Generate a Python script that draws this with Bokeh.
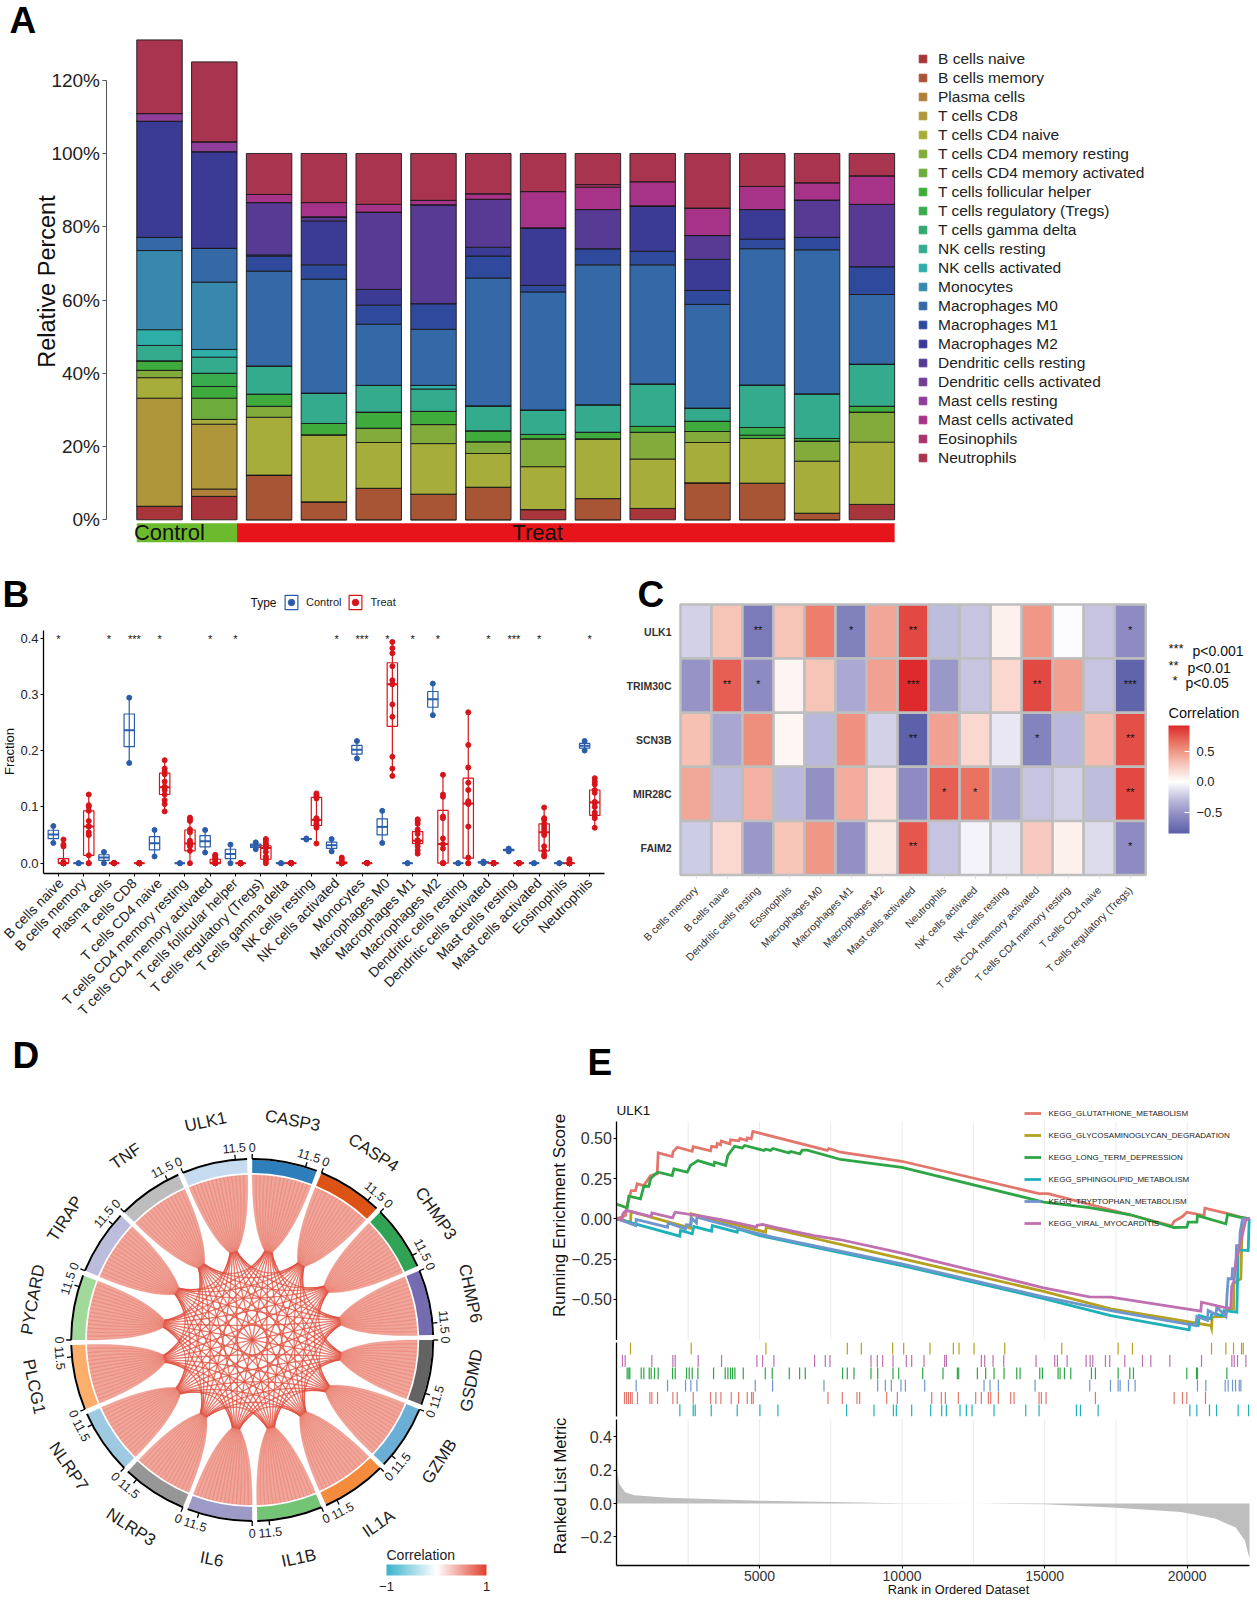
import math
import numpy as np
from bokeh.core.properties import value
from bokeh.embed import file_html
from bokeh.resources import INLINE
from bokeh.plotting import figure
from bokeh.layouts import column, row
from bokeh.models import (Range1d, Label, Legend, LegendItem, FixedTicker, ColorBar,
                          LinearColorMapper, ColumnDataSource)

FONT = "Liberation Sans"

# ---------------- Panel A ----------------
cell_types = ["B cells naive","B cells memory","Plasma cells","T cells CD8","T cells CD4 naive",
 "T cells CD4 memory resting","T cells CD4 memory activated","T cells follicular helper",
 "T cells regulatory (Tregs)","T cells gamma delta","NK cells resting","NK cells activated",
 "Monocytes","Macrophages M0","Macrophages M1","Macrophages M2","Dendritic cells resting",
 "Dendritic cells activated","Mast cells resting","Mast cells activated","Eosinophils","Neutrophils"]
cell_colors = ["#A8343C","#A85536","#B0803A","#AF963A","#A6AD3A","#82AB3C","#6CAB3C","#3FAB3C","#38AC4E",
 "#34A873","#33AB8C","#2FAEA8","#3788AC","#3568A6","#2F4A9C","#3B3A94","#563A94","#6F3C96","#8F3F9A",
 "#A63388","#A8326A","#A8344F"]
a_b_naive = [3.7,6.4,0,0,0,0,0,2.8,0,3.1,0,0,0,4.2]
a_b_memory = [0,0,12.2,4.9,8.6,7,8.9,0,5.8,0,10.1,10,1.8,0]
a_plasma = [0,2.0,0,0,0,0,0,0,0,0,0,0,0,0]
a_cd8 = [29.5,17.7,0,0,0,0,0,0,0,0,0,0,0,0]
a_cd4_naive = [5.6,1.3,15.8,18.3,12.5,13.8,9.2,11.7,16.3,13.5,11,12.2,14.2,17]
a_cd4_rest = [2.0,0,3.0,0,3.9,5.2,3.2,7.6,0,7.3,3,0,5.5,8.2]
a_cd4_act = [0,5.8,0,0,0,0,0,0,0,0,0,0,0,0]
a_tfh = [2.6,3.2,3.3,3.1,4.4,3.6,3,1.2,1.8,1.6,2.8,0.9,0.7,1.6]
a_treg = [0,3.6,0,0,0,0,0,0,0,0,0,2.1,0,0]
a_gamma = [0]*14
a_nk_rest = [4.2,4.4,7.7,8.3,7.3,6.1,6.8,6.7,7.5,11.6,3.6,11.6,12.2,11.5]
a_nk_act = [4.3,2.1,0,0,0,1.0,0,0,0,0,0,0,0,0]
a_mono = [21.6,18.4,0,0,0,0,0,0,0,0,0,0,0,0]
a_m0 = [3.6,9.2,25.9,31.1,16.7,15.3,34.9,32.2,38.2,32.5,28.3,37.2,39.3,19]
a_m1 = [0,0,4.1,3.9,5.2,7,6,1.8,4.4,3.7,3.8,2.6,3.4,7.6]
a_m2 = [31.7,26.4,0.3,12,4.3,0,2.4,15.7,0,12.4,8.5,8.1,0,0]
a_dc_rest = [0,0,14.3,1.1,21.1,27,13.1,0,10.7,0,6.5,0,10.2,17]
a_dc_act = [0]*14
a_mast_rest = [2.1,2.7,0,0,0,0,0,0,0,0,0,0,0,0]
a_mast_act = [0,0,2.2,3.9,2.1,1.2,1.5,9.9,6.1,6.6,7.5,6.3,4.7,7.8]
a_eos = [0,0,0,0,0,0,0,0,0.7,0,0,0,0,0]
a_neut = [20.1,21.8,11.2,13.4,13.9,12.8,11,10.4,8.5,7.7,14.9,9,8,6.1]
a_groups = ["Control","Treat"]
a_group_sizes = [2,12]
a_group_colors = ["#6CBB2E","#E8141C"]
a_ticks = [0,20,40,60,80,100,120]

# ---------------- Panel B ----------------
b_cats = ["B cells naive","B cells memory","Plasma cells","T cells CD8","T cells CD4 naive",
 "T cells CD4 memory resting","T cells CD4 memory activated","T cells follicular helper",
 "T cells regulatory (Tregs)","T cells gamma delta","NK cells resting","NK cells activated","Monocytes",
 "Macrophages M0","Macrophages M1","Macrophages M2","Dendritic cells resting","Dendritic cells activated",
 "Mast cells resting","Mast cells activated","Eosinophils","Neutrophils"]
ctrl_lo = [.036,0,0,.178,.012,0,.019,0,.025,0,.042,.021,.186,.036,0,.263,0,0,.021,0,0,.200]
ctrl_hi = [.066,0,.020,.294,.059,0,.059,.033,.037,0,.044,.043,.217,.093,0,.319,0,.003,.026,0,0,.217]
treat_q1 = [0,.014,0,0,.122,.022,0,0,.007,0,.067,0,0,.243,.035,0,.009,0,0,.022,0,.085]
treat_med = [0,.065,0,0,.135,.035,0,0,.027,0,.077,0,0,.318,.040,.034,.106,0,0,.055,0,.108]
treat_q3 = [.008,.093,0,0,.160,.059,.007,0,.031,0,.117,.002,0,.356,.056,.094,.151,0,0,.070,0,.130]
treat_pts = [
 [0,0,0,0,0,0,0,0,.002,.030,.033,.042],
 [0,0,.014,.05,.055,.065,.066,.075,.093,.100,.103,.122],
 [0]*12, [0]*12,
 [.092,.105,.112,.122,.13,.135,.136,.145,.158,.163,.168,.183],
 [0,.022,.03,.033,.035,.036,.04,.055,.06,.075,.078,.081],
 [0,0,0,0,0,0,.002,.006,.008,.01,.013,.015],
 [0]*12,
 [0,.005,.008,.012,.02,.027,.028,.03,.032,.035,.04,.043],
 [0]*12,
 [.035,.063,.067,.07,.075,.077,.078,.08,.115,.118,.121,.124],
 [0,0,0,0,0,0,0,0,0,.002,.006,.01],
 [0]*12,
 [.155,.168,.189,.26,.282,.318,.318,.325,.35,.373,.382,.393],
 [.017,.023,.03,.035,.038,.04,.041,.052,.06,.07,.075,.078],
 [0,0,0,0,.026,.034,.044,.08,.083,.118,.122,.157],
 [0,0,.01,.065,.105,.108,.11,.13,.143,.17,.21,.268],
 [0]*12, [0]*12,
 [.012,.015,.022,.03,.05,.055,.06,.065,.07,.077,.08,.099],
 [0,0,0,0,0,0,0,0,0,0,.004,.007],
 [.063,.08,.085,.09,.1,.107,.109,.125,.13,.14,.145,.151]]
b_sig_index = [0,2,3,4,6,7,11,12,13,14,15,17,18,19,21]
b_sig_text = ["*","*","***","*","*","*","*","***","*","*","*","*","***","*","*"]
b_ticks = [0.0,0.1,0.2,0.3,0.4]

# ---------------- Panel C ----------------
c_cols = ["B cells memory","B cells naive","Dendritic cells resting","Eosinophils","Macrophages M0",
 "Macrophages M1","Macrophages M2","Mast cells activated","Neutrophils","NK cells activated","NK cells resting",
 "T cells CD4 memory activated","T cells CD4 memory resting","T cells CD4 naive","T cells regulatory (Tregs)"]
c_rows = ["ULK1","TRIM30C","SCN3B","MIR28C","FAIM2"]
c_ulk1 = [-.2,.3,-.65,.3,.6,-.62,.43,.8,-.28,-.25,.08,.5,-.01,-.25,-.55]
c_trim30c = [-.5,.72,-.55,.05,.3,-.38,.45,.92,-.48,-.25,.2,.8,.45,-.25,-.8]
c_scn3b = [.32,-.4,.53,.04,-.3,.52,-.2,-.82,.45,.2,-.1,-.6,-.3,.33,.78]
c_mir28c = [.42,-.28,.38,-.3,-.52,.4,.15,-.55,.72,.65,-.4,-.25,-.2,-.28,.8]
c_faim2 = [-.22,.2,-.48,.3,.5,-.52,.12,.75,-.25,-.05,-.1,.27,.07,-.15,-.55]
c_star_row = [0,0,0,0,1,1,1,1,1,2,2,2,3,3,3,4,4]
c_star_col = [2,5,7,14,1,2,7,11,14,7,11,14,8,9,14,7,14]
c_star_txt = ["**","*","**","*","**","*","***","**","***","**","*","**","*","*","**","**","*"]

# ---------------- Panel D ----------------
d_genes = ["CASP3","CASP4","CHMP3","CHMP6","GSDMD","GZMB","IL1A","IL1B","IL6","NLRP3","NLRP7","PLCG1","PYCARD","TIRAP","TNF","ULK1"]
d_colors = ["#2E7EBB","#DD5316","#31A354","#756BB1","#636363","#6BAED6","#F58B3C","#74C476","#9E9AC8","#969696",
            "#9ECAE1","#FDAE6B","#A1D99B","#BCBDDC","#BDBDBD","#C6DBEF"]
d_tick_labels = ["0","11.5"]

# ---------------- Panel E ----------------
e_names = ["KEGG_GLUTATHIONE_METABOLISM","KEGG_GLYCOSAMINOGLYCAN_DEGRADATION","KEGG_LONG_TERM_DEPRESSION",
           "KEGG_SPHINGOLIPID_METABOLISM","KEGG_TRYPTOPHAN_METABOLISM","KEGG_VIRAL_MYOCARDITIS"]
e_colors = ["#E2766C","#B5A01F","#2EA646","#1FB0B8","#6E96CC","#BE70B0"]
gsh_x = [0,302,360,500,653,711,945,1179,1413,1448,1939,1974,2115,2641,2676,3285,3320,3495,3519,3635,3659,3963,3986,4279,4314,4548,4571,4711,4770,7378,7437,7846,9993,14806,15127,19457,19542,19835,19987,20595,20619,21355,21882,22185]
gsh_y = [0,.02,.082,.175,.175,.217,.206,.268,.279,.409,.386,.417,.444,.419,.448,.422,.45,.444,.467,.459,.482,.465,.49,.484,.498,.486,.502,.496,.542,.424,.436,.413,.357,.156,.156,-.043,-.015,.014,.041,.02,.066,.035,.01,0]
gag_x = [0,477,500,2583,2606,5214,5237,9993,14966,17320,20829,20853,20875,21355,21378,21624,21640,21882,21905,21940,22185]
gag_y = [0,-.021,.045,-.058,.031,-.083,-.052,-.247,-.45,-.559,-.662,-.676,-.609,-.606,-.559,-.56,-.40,-.372,-.197,0,0]
ltd_x = [0,360,419,828,945,1121,1179,1354,1448,1939,1998,2466,2582,2840,3402,3425,3811,3893,4127,4396,4478,5156,5214,5390,5472,6033,6092,6419,6501,6676,7846,9993,14966,16570,18014,19538,19987,20034,20338,20361,21355,21414,21823,22185]
ltd_y = [.09,.068,.14,.124,.202,.202,.248,.279,.289,.268,.31,.289,.331,.361,.331,.351,.331,.393,.45,.44,.455,.424,.432,.424,.436,.409,.418,.403,.426,.426,.368,.319,.104,.07,.025,-.054,-.052,-.021,-.021,.02,-.031,.027,.01,0]
sph_x = [0,2208,2231,2641,2700,3320,3343,4220,4243,5015,9993,14966,17320,20069,20092,20385,20420,20829,20864,21238,21290,21741,21788,22139,22174,22185]
sph_y = [0,-.108,-.072,-.093,-.048,-.077,-.042,-.083,-.062,-.104,-.29,-.495,-.60,-.689,-.652,-.662,-.60,-.621,-.585,-.60,-.57,-.579,-.193,-.197,-.006,0]
trp_x = [0,660,676,1776,1800,2407,2430,2594,2620,2790,2805,4852,5460,9993,14966,17320,20303,20338,20711,20735,21004,21040,21355,21390,21437,21570,21590,21706,21730,21840,21858,21940,22185]
trp_y = [0,-.042,-.004,-.052,-.025,-.062,-.037,-.04,.004,-.025,.01,-.087,-.114,-.28,-.484,-.569,-.662,-.606,-.63,-.569,-.594,-.548,-.606,-.497,-.372,-.372,-.31,-.31,-.166,-.166,-.083,0,0]
vmc_x = [0,185,208,325,1202,1226,1951,2045,2840,3659,4899,4920,5109,5507,6910,7846,9993,14966,16570,17320,20478,20502,21355,21531,21560,21648,21706,21800,22057,22185]
vmc_y = [0,-.005,.031,.052,.014,.037,.006,.041,.02,-.005,-.052,-.04,-.035,-.052,-.104,-.13,-.213,-.428,-.484,-.486,-.573,-.517,-.552,-.552,-.42,-.383,-.259,-.2,-.006,0]
rug_gag = [477,2606,5226,8080,8571,9671,10057,10981,11799,11998,12525,13601,15601,17578,18081,20853,21356,21625,21906,21964]
rug_vmc = [196,290,1226,1963,2045,2852,3670,4910,5109,5507,6934,7308,7472,8911,9133,9320,9683,10150,10338,10771,11495,11554,12782,12899,13191,13566,14700,15355,15449,15788,16455,16595,16689,17133,17285,17812,18432,18724,19391,20502,21566,21648,21765,22058]
rug_ltd = [360,419,454,852,945,1132,1202,1319,1448,1951,2045,2442,2536,2641,2840,3390,3799,3893,3986,4056,4138,4431,5203,5448,6045,6408,6606,7916,8080,8314,8911,9145,9683,9882,10724,11437,11940,11987,12642,12934,13226,13577,14022,14139,14829,14922,15472,15542,15694,15917,16642,16782,17578,17987,18116,19987,20326,20361,21391]
rug_trp = [676,1776,2407,2594,2805,4852,5460,7262,9145,9414,9624,9963,10116,10794,12875,13086,13378,14665,16583,17309,17578,17648,17940,18174,20361,20654,21332,21437,21589,21695,21824,21882]
rug_gsh = [266,337,407,477,536,723,1156,1226,1425,1963,2115,2676,3285,3472,3647,4009,4267,4571,4723,4782,7402,7905,8419,8513,9461,9835,11039,11378,11519,11975,12583,12782,13028,13110,13378,13811,13928,14805,14887,15051,16782,19543,19835,19987,20642]
rug_sph = [2208,2676,2746,3308,4220,5015,5647,8057,9016,9695,9800,10338,11004,11390,11554,12033,12256,12454,13226,14338,14805,16116,16256,16876,20093,20338,20782,21028,21788,22151]
metric_x = [1,80,289,610,1813,5021,9993,12560,14965,17370,19780,20980,21700,22020,22185]
metric_y = [.205,.118,.068,.05,.035,.017,.002,0,-.004,-.024,-.05,-.09,-.144,-.22,-.33]
e_rank_max = 22185
e_grid = [2500,5000,7500,10000,12500,15000,17500,20000]
e_x_ticks = [5000,10000,15000,20000]
e_es_ticks = [-0.5,-0.25,0,0.25,0.5]
e_metric_ticks = [-0.2,0,0.2,0.4]

ORIGIN = {}


def make_fig(ox, oy, w, h, L, R, T, B, xr, yr, xaxis=False, yaxis=False):
    """Whole-canvas plot area; the data ranges xr, yr map onto page pixels L..R, B..T."""
    sx, sy = (R - L) / (xr[1] - xr[0]), (B - T) / (yr[1] - yr[0])
    x_range = Range1d(xr[0] - (L - ox) / sx, xr[1] + (ox + w - R) / sx)
    y_range = Range1d(yr[0] - (oy + h - B) / sy, yr[1] + (T - oy) / sy)
    kw = {}
    if not xaxis: kw["x_axis_type"] = None
    if not yaxis: kw["y_axis_type"] = None
    p = figure(width=w, height=h, x_range=x_range, y_range=y_range, output_backend="svg", toolbar_location=None,
               min_border_left=0, min_border_right=0, min_border_top=0, min_border_bottom=0,
               outline_line_color=None, **kw)
    p.grid.visible = False
    if xaxis:
        p.xaxis.fixed_location = yr[0]
        p.xaxis.bounds = tuple(xr)
    if yaxis:
        p.yaxis.fixed_location = xr[0]
        p.yaxis.bounds = tuple(yr)
    ORIGIN[id(p)] = (ox, oy + h)
    return p


def lab(p, X, Y, text, size, angle=0.0, align="left", base="middle", style="normal", color="#111111"):
    ox, ob = ORIGIN[id(p)]
    p.add_layout(Label(x=X - ox, y=ob - Y, x_units="screen", y_units="screen", text=text,
                       text_font=FONT, text_font_size=f"{size}px", text_font_style=style, text_color=color,
                       angle=angle, text_align=align, text_baseline=base))


def style_axis(ax, size, color="#222222", line="#000000", lw=1.2, out=3, standoff=3):
    ax.major_label_text_font = FONT
    ax.major_label_text_font_size = f"{size}px"
    ax.major_label_text_color = color
    ax.axis_line_color = line
    ax.axis_line_width = lw
    ax.major_tick_line_color = line
    ax.major_tick_out = out
    ax.major_tick_in = 0
    ax.minor_tick_line_color = None
    ax.major_label_standoff = standoff


# ================ Panel A ================
bar_pitch, bar0 = 54.8, 159.0
A_L, A_R, A_T, A_B = 105.5, 1257, 79.7, 519.3
pa = make_fig(0, 0, 1257, 565, A_L, A_R, A_T, A_B, ((A_L - bar0) / bar_pitch, (A_R - bar0) / bar_pitch), (0, 120), yaxis=True)
a_series = [a_b_naive,a_b_memory,a_plasma,a_cd8,a_cd4_naive,a_cd4_rest,a_cd4_act,a_tfh,a_treg,a_gamma,a_nk_rest,
            a_nk_act,a_mono,a_m0,a_m1,a_m2,a_dc_rest,a_dc_act,a_mast_rest,a_mast_act,a_eos,a_neut]
a_src = {"x": list(range(14))}
for name, vals in zip(cell_types, a_series):
    a_src[name] = vals
pa.vbar_stack(cell_types, x="x", width=0.83, color=cell_colors, line_color="#1a1a1a", line_width=0.9,
              source=ColumnDataSource(a_src))
a_items = []
for name, c in zip(cell_types, cell_colors):
    r = pa.scatter(x=[float("nan")], y=[float("nan")], marker="square", color=c)
    a_items.append(LegendItem(label=name, renderers=[r]))
leg_a = Legend(items=a_items, location=(913, 565 - 467), padding=0, margin=0, spacing=0, glyph_width=19,
               glyph_height=19, label_height=19, label_standoff=6, border_line_color=None,
               background_fill_alpha=0, label_text_font=FONT, label_text_font_size="15.5px",
               label_text_color="#222222")
pa.add_layout(leg_a)
ya = pa.yaxis[0]
style_axis(ya, 19, line="#555555", lw=1, out=4, standoff=2)
ya.ticker = FixedTicker(ticks=a_ticks)
ya.major_label_overrides = {t: f"{t}%" for t in a_ticks}
half_bar = 0.415
g_edges = [-half_bar]
pos = -1
for n in a_group_sizes:
    pos += n
    g_edges.append(pos + half_bar)
pa.quad(left=g_edges[:-1], right=g_edges[1:], bottom=-6.1, top=-0.93, color=a_group_colors, line_color=None)
pa.text(x=[0.18, 6.9], y=[-3.5, -3.5], text=a_groups, text_font=value(FONT), text_font_size="22px", text_align="center",
        text_baseline="middle", text_color="#111111")
lab(pa, 46, 281, "Relative Percent", 23.5, angle=math.pi / 2, align="center")
lab(pa, 9, 20, "A", 37, style="bold", base="alphabetic", color="#000000")

# ================ Panel B ================
b_pitch, b0 = 25.3, 57.9
b_px = 563.0
B_L, B_R, B_T, B_B = 43, 604, 630, 873
pb = make_fig(0, 565, 620, 465, B_L, B_R, B_T, B_B, ((B_L - b0) / b_pitch, (B_R - b0) / b_pitch),
              ((862.7 - B_B) / b_px, (862.7 - B_T) / b_px), xaxis=True, yaxis=True)
BLUE, RED = "#2A5CAA", "#D7141A"
xi = np.arange(len(b_cats))
d = 0.2
c_lo, c_hi = np.array(ctrl_lo), np.array(ctrl_hi)
c_q1, c_med, c_q3 = c_lo + .25 * (c_hi - c_lo), (c_lo + c_hi) / 2, c_lo + .75 * (c_hi - c_lo)
t_min = np.array([min(v) for v in treat_pts]); t_max = np.array([max(v) for v in treat_pts])
bw = 0.41
def draw_box(x, q1, med, q3, lo, hi, col):
    pb.segment(x0=x, x1=x, y0=lo, y1=hi, color=col, line_width=1.2)
    b = pb.vbar(x=x, bottom=q1, top=q3, width=bw, fill_color="#FFFFFF", fill_alpha=0.0, line_color=col, line_width=1.2)
    pb.segment(x0=x - bw / 2, x1=x + bw / 2, y0=med, y1=med, color=col, line_width=2)
    return b
box_c = draw_box(xi - d, c_q1, c_med, c_q3, c_lo, c_hi, BLUE)
box_t = draw_box(xi + d, treat_q1, treat_med, treat_q3, t_min, t_max, RED)
pts_c = pb.scatter(np.r_[xi - d, xi - d], np.r_[c_lo, c_hi], size=5, color=BLUE)
px_t = np.concatenate([[i + d] * len(v) for i, v in enumerate(treat_pts)])
py_t = np.concatenate(treat_pts)
pts_t = pb.scatter(px_t, py_t, size=5, color=RED)
pb.text(x=b_sig_index, y=[0.399] * len(b_sig_index), text=b_sig_text, text_font=value(FONT),
        text_font_size="11px", text_align="center", text_baseline="middle", text_color="#111111")
xa, yb = pb.xaxis[0], pb.yaxis[0]
style_axis(xa, 13.9, lw=1.3, out=3, standoff=4)
xa.ticker = FixedTicker(ticks=list(range(len(b_cats))))
xa.major_label_overrides = {i: c for i, c in enumerate(b_cats)}
xa.major_label_orientation = math.radians(45.5)
style_axis(yb, 13, lw=1.3, out=3, standoff=2)
yb.ticker = FixedTicker(ticks=b_ticks)
yb.major_label_overrides = {t: f"{t:.1f}" for t in b_ticks}
leg_b = Legend(items=[LegendItem(label="Control", renderers=[box_c, pts_c]), LegendItem(label="Treat", renderers=[box_t, pts_t])],
               location=(283, 1030 - 611), orientation="horizontal", padding=0, margin=0, spacing=6,
               glyph_width=16, glyph_height=18, label_standoff=7, border_line_color=None, background_fill_alpha=0,
               label_text_font=FONT, label_text_font_size="11px", label_text_color="#222222")
pb.add_layout(leg_b)
lab(pb, 250, 602, "Type", 12)
lab(pb, 9, 751, "Fraction", 13, angle=math.pi / 2, align="center")
lab(pb, 2, 594, "B", 37, style="bold", base="alphabetic", color="#000000")

# ================ Panel C ================
C_OX, C_OY = 620, 565
pc = make_fig(C_OX, C_OY, 637, 465, 680, 1145.2, 604, 874.5, (-0.5, 14.5), (-0.5, 4.5), xaxis=True, yaxis=True)
c_matrix = [c_ulk1, c_trim30c, c_scn3b, c_mir28c, c_faim2]
c_low, c_high = -0.84, 0.92
WHITE = (255, 255, 255)
def mix(c1, c2, t):
    return "#%02x%02x%02x" % tuple(int(round(a + (b - a) * t)) for a, b in zip(c1, c2))
stops_v = [-.84, -.55, -.3, 0, .3, .6, .92]
stops_c = [(90, 95, 168), (141, 139, 194), (187, 185, 219), WHITE, (247, 196, 184), (236, 127, 108), (222, 42, 44)]
pal_c = [
    "#%02x%02x%02x" % tuple(int(round(np.interp(v, stops_v, [s[ch] for s in stops_c]))) for ch in range(3))
    for v in np.linspace(c_low, c_high, 256)]
map_c = LinearColorMapper(palette=pal_c, low=c_low, high=c_high)
cx, cy, cv = [], [], []
for r_i, vals in enumerate(c_matrix):
    for c_i, v in enumerate(vals):
        cx.append(c_i); cy.append(4 - r_i); cv.append(v)
pc.rect(x="x", y="y", width=1, height=1, source=ColumnDataSource(dict(x=cx, y=cy, v=cv)),
        fill_color={"field": "v", "transform": map_c}, line_color="#BEBEBE", line_width=2.5)
pc.text(x=c_star_col, y=[4 - r + 0.03 for r in c_star_row], text=c_star_txt, text_font=value(FONT), text_font_size="11px",
        text_align="center", text_baseline="middle", text_color="#111111")
xc, yc = pc.xaxis[0], pc.yaxis[0]
style_axis(xc, 10.5, color="#333333", line=None, out=0, standoff=10)
xc.ticker = FixedTicker(ticks=list(range(15)))
xc.major_label_overrides = {i: c for i, c in enumerate(c_cols)}
xc.major_label_orientation = math.pi / 4
xc.major_tick_line_color = "#DDDDDD"
xc.major_tick_out = 3
style_axis(yc, 10.5, color="#333333", line=None, out=0, standoff=9)
yc.ticker = FixedTicker(ticks=[0, 1, 2, 3, 4])
yc.major_label_overrides = {4 - i: c for i, c in enumerate(c_rows)}
yc.major_label_text_font_style = "bold"
cb_c = ColorBar(color_mapper=map_c, location=(1168 - C_OX, 1030 - 833), width=21, height=108, padding=0, margin=0,
                ticker=FixedTicker(ticks=[-0.5, 0, 0.5]), major_label_overrides={-0.5: "\u22120.5", 0: "0.0", 0.5: "0.5"},
                major_tick_line_color="#FFFFFF", major_tick_in=5, major_tick_out=0, label_standoff=7,
                major_label_text_font=FONT, major_label_text_font_size="13px", major_label_text_color="#222222",
                bar_line_color=None)
pc.add_layout(cb_c)
for yy, s1, x1, s2, x2 in [(650, "***", 1168, "p<0.001", 1192), (667, "**", 1168, "p<0.01", 1187), (682, "*", 1172, "p<0.05", 1185)]:
    lab(pc, x1, yy - 2, s1, 13)
    lab(pc, x2, yy, s2, 14)
lab(pc, 1168, 712, "Correlation", 14.5)
lab(pc, 637, 594, "C", 37, style="bold", base="alphabetic", color="#000000")

# ================ Panel D ================
D_CX, D_CY = 251.7, 1339.5
pd_ = make_fig(0, 1030, 540, 570, 0, 540, 1030, 1600, (-D_CX, 540 - D_CX), (D_CY - 1600, D_CY - 1030))
n_g = len(d_genes)
step_deg, gap_deg = 360.0 / n_g, 1.6
span = step_deg - gap_deg
R_CH, R_IN, R_OUT = 165.0, 167.0, 180.0
R_NECK, R_CTRL = 90.0, 112.0
NECK_SHRINK = 0.25
WEB_BEND = 0.315
sec_start = [90 - step_deg * k for k in range(n_g)]
sec_end = [s - span for s in sec_start]
sec_mid = [s - span / 2 for s in sec_start]
def pol(deg, r):
    return r * math.cos(math.radians(deg)), r * math.sin(math.radians(deg))
def text_rot(deg):
    a = deg % 360
    return math.radians(a - 90) if a <= 180 else math.radians(a + 90)
def neck(i, deg):
    return pol(sec_mid[i] + (deg - sec_mid[i]) * NECK_SHRINK, R_NECK)
slice_deg = span / (n_g - 1)
def slice_of(i, j):
    k = (i - j) % n_g - 1
    a = sec_start[i] - k * slice_deg
    return a, a - slice_deg
def quad(p0, c, p2, m=14):
    t = np.linspace(0, 1, m)
    return [((1 - u) ** 2 * p0[0] + 2 * u * (1 - u) * c[0] + u ** 2 * p2[0],
             (1 - u) ** 2 * p0[1] + 2 * u * (1 - u) * c[1] + u ** 2 * p2[1]) for u in t]
def web(n1, n2):
    return quad(n1, (WEB_BEND * (n1[0] + n2[0]), WEB_BEND * (n1[1] + n2[1])), n2)
def edge(i, a, j, b):
    n1, n2 = neck(i, a), neck(j, b)
    return (quad(pol(a, R_CH), pol(a, R_CTRL), n1) + web(n1, n2)[1:] + quad(n2, pol(b, R_CTRL), pol(b, R_CH))[1:])
rib_x, rib_y, web_x, web_y = [], [], [], []
for i in range(n_g):
    for j in range(i + 1, n_g):
        a1, a2 = slice_of(i, j)
        b1, b2 = slice_of(j, i)
        pts = edge(i, a2, j, b1) + edge(j, b2, i, a1)
        rib_x.append([q[0] for q in pts]); rib_y.append([q[1] for q in pts])
        mid = web(neck(i, (a1 + a2) / 2), neck(j, (b1 + b2) / 2))
        web_x.append([q[0] for q in mid]); web_y.append([q[1] for q in mid])
pd_.patches(rib_x, rib_y, fill_color="#E14B35", fill_alpha=0.5, line_color="#E14B35", line_alpha=0.4, line_width=0.45)
pd_.multi_line(web_x, web_y, line_color="#E0503F", line_alpha=0.55, line_width=1.3)
pd_.annular_wedge(x=0, y=0, inner_radius=R_IN, outer_radius=R_OUT, start_angle=np.radians(sec_start),
                  end_angle=np.radians(sec_end), direction="clock", color=d_colors, line_color=None)
pd_.arc(x=0, y=0, radius=R_OUT + 1, start_angle=np.radians(sec_start), end_angle=np.radians(sec_end),
        direction="clock", line_color="#000000", line_width=2)
tick_deg = []
for s in sec_start:
    tick_deg += [s, s - 0.82 * span]
tx0, ty0 = zip(*[pol(a, R_OUT + 1) for a in tick_deg])
tx1, ty1 = zip(*[pol(a, R_OUT + 6) for a in tick_deg])
pd_.segment(x0=tx0, y0=ty0, x1=tx1, y1=ty1, color="#000000", line_width=1.3)
tlx, tly = zip(*[pol(a, R_OUT + 13) for a in tick_deg])
pd_.text(x=tlx, y=tly, text=d_tick_labels * n_g, angle=[text_rot(a) for a in tick_deg], text_font=value(FONT),
         text_font_size="12.5px", text_align="center", text_baseline="middle", text_color="#222222")
gx, gy = zip(*[pol(a, 223) for a in sec_mid])
pd_.text(x=gx, y=gy, text=d_genes, angle=[text_rot(a) for a in sec_mid], text_font=value(FONT), text_font_size="17px",
         text_align="center", text_baseline="middle", text_color="#222222")
pal_d = [mix((59, 178, 204), WHITE, t) for t in np.linspace(0, 1, 128)] + [mix(WHITE, (224, 64, 46), t) for t in np.linspace(0, 1, 128)]
cb_d = ColorBar(color_mapper=LinearColorMapper(palette=pal_d, low=-1, high=1), orientation="horizontal",
                location=(386, 7), width=100, height=11, padding=0, margin=0, title="Correlation", title_standoff=4,
                title_text_font=FONT, title_text_font_size="14px", title_text_font_style="normal", title_text_color="#222222",
                ticker=FixedTicker(ticks=[-1, 1]), major_label_overrides={-1: "\u22121", 1: "1"}, major_tick_line_color=None,
                major_label_text_font=FONT, major_label_text_font_size="13px", major_label_text_color="#222222",
                label_standoff=6, bar_line_color=None)
pd_.add_layout(cb_d)
lab(pd_, 12, 1055, "D", 37, style="bold", base="alphabetic", color="#000000")

# ================ Panel E ================
E_OX, E_W = 540, 717
E_L, E_R = 616.4, 1249
E1_T, E1_B = 1121, 1339.5
GRID_COLOR = "#EBEBEB"
es_range = ((1218.3 - E1_B) / 161.2, (1218.3 - E1_T) / 161.2)
pe1 = make_fig(E_OX, 1030, E_W, 310, E_L, E_R, E1_T, E1_B, (0, e_rank_max), es_range, yaxis=True)
pe1.segment(x0=e_grid, x1=e_grid, y0=[es_range[0]] * len(e_grid), y1=[es_range[1]] * len(e_grid), color=GRID_COLOR, line_width=1)
e_lines = [(gsh_x, gsh_y), (gag_x, gag_y), (ltd_x, ltd_y), (sph_x, sph_y), (trp_x, trp_y), (vmc_x, vmc_y)]
e_items = []
for name, col, (lx, ly) in zip(e_names, e_colors, e_lines):
    r = pe1.line(lx, ly, color=col, line_width=2.8, line_join="miter")
    e_items.append(LegendItem(label=name, renderers=[r]))
leg_e = Legend(items=e_items, location=(1023.5 - E_OX, 1340 - 1234), padding=0, margin=0, spacing=0, glyph_width=17,
               glyph_height=22, label_height=22, label_standoff=8, border_line_color=None, background_fill_alpha=0,
               label_text_font=FONT, label_text_font_size="8px", label_text_color="#222222")
pe1.add_layout(leg_e)
y1 = pe1.yaxis[0]
style_axis(y1, 16, color="#333333", lw=1.3, out=3, standoff=2)
y1.ticker = FixedTicker(ticks=e_es_ticks)
y1.major_label_overrides = {-0.5: "\u22120.50", -0.25: "\u22120.25", 0: "0.00", 0.25: "0.25", 0.5: "0.50"}
lab(pe1, 559, 1215, "Running Enrichment Score", 17, angle=math.pi / 2, align="center")
lab(pe1, 616, 1109.5, "ULK1", 13.5)
lab(pe1, 587, 1062, "E", 37, style="bold", base="alphabetic", color="#000000")

pe2 = make_fig(E_OX, 1340, E_W, 77, E_L, E_R, 1342, 1416, (0, e_rank_max), (0, 6), yaxis=True)
y2 = pe2.yaxis[0]
style_axis(y2, 1, lw=1.3, out=0, standoff=0)
y2.major_label_text_color = None
y2.ticker = FixedTicker(ticks=[])
rugs = [rug_gag, rug_vmc, rug_ltd, rug_trp, rug_gsh, rug_sph]
rug_cols = [e_colors[1], e_colors[5], e_colors[2], e_colors[4], e_colors[0], e_colors[3]]
for k, (rx, col) in enumerate(zip(rugs, rug_cols)):
    lvl = 5 - k
    pe2.segment(x0=rx, x1=rx, y0=[lvl + .02] * len(rx), y1=[lvl + .98] * len(rx), color=col, line_width=1.2)

m_range = (-.369, .505)
pe3 = make_fig(E_OX, 1417, E_W, 183, E_L, E_R, 1418.7, 1564.7, (0, e_rank_max), m_range, xaxis=True, yaxis=True)
pe3.segment(x0=e_grid, x1=e_grid, y0=[m_range[0]] * len(e_grid), y1=[m_range[1]] * len(e_grid), color=GRID_COLOR, line_width=1)
pe3.varea(x=metric_x, y1=[0] * len(metric_x), y2=metric_y, color="#BEBEBE")
x3, y3 = pe3.xaxis[0], pe3.yaxis[0]
style_axis(x3, 14, color="#333333", lw=1.3, out=3, standoff=3)
x3.ticker = FixedTicker(ticks=e_x_ticks)
x3.major_label_overrides = {t: str(t) for t in e_x_ticks}
style_axis(y3, 16, color="#333333", lw=1.3, out=3, standoff=2)
y3.ticker = FixedTicker(ticks=e_metric_ticks)
y3.major_label_overrides = {-0.2: "\u22120.2", 0: "0.0", 0.2: "0.2", 0.4: "0.4"}
lab(pe3, 559, 1485.5, "Ranked List Metric", 16.5, angle=math.pi / 2, align="center")
lab(pe3, 958, 1589, "Rank in Ordered Dataset", 12.8, align="center")

layout = column(pa, row(pb, pc, spacing=0), row(pd_, column(pe1, pe2, pe3, spacing=0), spacing=0), spacing=0)
open("out.html", "w").write(file_html(layout, INLINE))
